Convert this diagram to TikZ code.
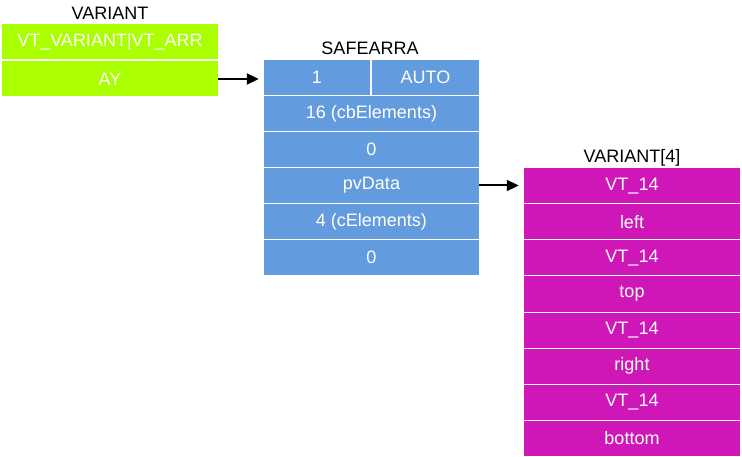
\documentclass[tikz,border=0pt]{standalone}
\usepackage{fontspec}
\setmainfont{Liberation Sans}
\usetikzlibrary{arrows.meta}
\definecolor{variantgreen}{RGB}{170,255,0}
\definecolor{safeblue}{RGB}{98,155,222}
\definecolor{elemmagenta}{RGB}{207,23,183}
\begin{document}
\begin{tikzpicture}[x=1pt,y=-1pt,
  cell/.style={rectangle, inner sep=0pt, minimum height=35pt, text=white,
    font=\fontsize{18}{21}\selectfont},
  greencell/.style={cell, fill=variantgreen, minimum width=216pt},
  bluecell/.style={cell, fill=safeblue, minimum width=215pt},
  halfcell/.style={cell, fill=safeblue},
  pinkcell/.style={cell, fill=elemmagenta, minimum width=216pt},
  title/.style={inner sep=0pt, font=\fontsize{18}{21}\selectfont},
  link/.style={line width=2pt, -{Triangle[length=12pt,width=11pt]}, shorten >=5pt}]
\useasboundingbox (0,0) rectangle (742,457);
% VARIANT
\node[title] (vartitle) at (110,13) {VARIANT};
\node[greencell] (vtype) at (110,42) {VT\_VARIANT|VT\_ARR};
\node[greencell] (vay) at (110,79) {AY};
% SAFEARRAY
\node[title] (satitle) at (370,48) {SAFEARRA};
\node[halfcell, minimum width=106pt] (dims) at (317,77.5) {1};
\node[halfcell, minimum width=107pt] (feat) at (425.5,77.5) {AUTO};
\node[bluecell] (cbel) at (371.5,113.5) {16 (cbElements)};
\node[bluecell] (locks) at (371.5,149.5) {0};
\node[bluecell] (pvdata) at (371.5,185.5) {pvData};
\node[bluecell] (celem) at (371.5,221.5) {4 (cElements)};
\node[bluecell] (lbound) at (371.5,257.5) {0};
% VARIANT[4]
\node[title] (arrtitle) at (632,158) {VARIANT[4]};
\node[pinkcell] (e1) at (632,186) {VT\_14};
\node[pinkcell] (e2) at (632,222) {left};
\node[pinkcell] (e3) at (632,258) {VT\_14};
\node[pinkcell] (e4) at (632,294) {top};
\node[pinkcell] (e5) at (632,330) {VT\_14};
\node[pinkcell] (e6) at (632,366) {right};
\node[pinkcell] (e7) at (632,402) {VT\_14};
\node[pinkcell] (e8) at (632,438) {bottom};
\draw[link] (vay.east) -- (vay.east -| dims.west);
\draw[link] (pvdata.east) -- (pvdata.east -| e1.west);
\end{tikzpicture}
\end{document}
